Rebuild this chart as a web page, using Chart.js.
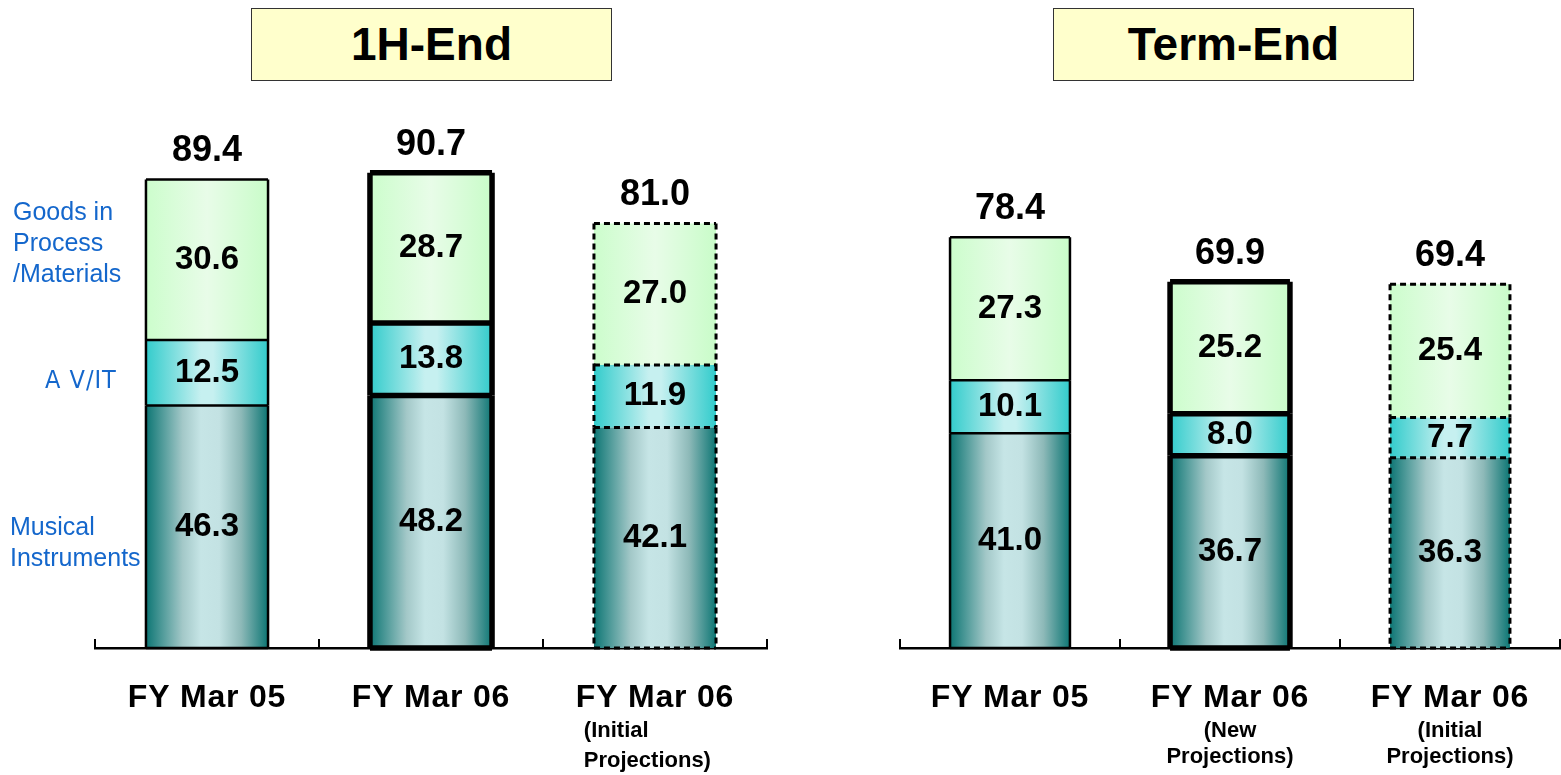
<!DOCTYPE html>
<html>
<head>
<meta charset="utf-8">
<script src="https://cdn.jsdelivr.net/npm/chart.js@4.4.0/dist/chart.umd.min.js"></script>
<style>
body { margin: 0; background: #fff; width: 1561px; height: 775px; overflow: hidden; position: relative;
       font-family: "Liberation Sans", Arial, sans-serif; }
canvas { position: absolute; left: 0; top: 0; }
.title { position: absolute; top: 8px; width: 359px; height: 71px; background: #ffffcc; border: 1.5px solid #333;
         font-weight: bold; font-size: 46px; line-height: 71px; text-align: center; z-index: 2; }
.leg { position: absolute; color: #1467cc; font-size: 25px; line-height: 31px; z-index: 2; white-space: nowrap; }
</style>
</head>
<body>
<div class="title" style="left:251px">1H-End</div>
<div class="title" style="left:1053px">Term-End</div>
<div class="leg" style="left:13px;top:196px">Goods in<br>Process<br>/Materials</div>
<div class="leg" style="left:45px;top:364px;font-family:'Liberation Sans Narrow','DejaVu Sans Condensed',sans-serif;letter-spacing:1px">A V/IT</div>
<div class="leg" style="left:10px;top:511px">Musical<br>Instruments</div>
<canvas id="half"></canvas>
<canvas id="term"></canvas>
<script>
// 1H-End
let categoriesHalf = ["FY Mar 05", "FY Mar 06", "FY Mar 06"];
let notesHalf = [[], [], ["(Initial", "Projections)"]];
let instrumentsHalf = [46.3, 48.2, 42.1];
let avitHalf = [12.5, 13.8, 11.9];
let goodsHalf = [30.6, 28.7, 27.0];

// Term-End
let categoriesTerm = ["FY Mar 05", "FY Mar 06", "FY Mar 06"];
let notesTerm = [[], ["(New", "Projections)"], ["(Initial", "Projections)"]];
let instrumentsTerm = [41.0, 36.7, 36.3];
let avitTerm = [10.1, 8.0, 7.7];
let goodsTerm = [27.3, 25.2, 25.4];

let barPct = 0.545;
let font = '"Liberation Sans", Arial, sans-serif';
let labelSpacing = '0.8px';

// actual / new projection / initial projection outlines
let outlines = [
  { w: 2.5, dash: [] },
  { w: 5.5, dash: [] },
  { w: 3, dash: [6, 4] }
];

// horizontal gradient across each bar
function barFill(stops) {
  return function (c) {
    let chart = c.chart;
    let xs = chart.scales.x;
    if (!xs || c.dataIndex === undefined || !xs.width) return stops[stops.length >> 1][1];
    let cx = xs.getPixelForValue(c.dataIndex);
    let half = xs.width / chart.data.labels.length * barPct / 2;
    let g = chart.ctx.createLinearGradient(cx - half, 0, cx + half, 0);
    stops.forEach(s => g.addColorStop(s[0], s[1]));
    return g;
  };
}

let instrumentStops = [[0, '#0d7674'], [0.3, '#a3c8c8'], [0.45, '#c6e5e6'], [0.6, '#c3e2e3'], [0.78, '#8db9b8'], [1, '#0d7674']];
let avitStops = [[0, '#33cccc'], [0.45, '#c6f0f0'], [0.55, '#c6f0f0'], [1, '#33cccc']];
let goodsStops = [[0, '#ccfdcc'], [0.5, '#e8fce8'], [1, '#c9fcc9']];

let decor = {
  id: 'decor',
  beforeDraw(chart) {
    if ('letterSpacing' in chart.ctx) chart.ctx.letterSpacing = labelSpacing;
  },
  afterDatasetsDraw(chart, args, opts) {
    let ctx = chart.ctx;
    let xs = chart.scales.x;
    let n = chart.data.labels.length;
    ctx.save();
    if ('letterSpacing' in ctx) ctx.letterSpacing = '0px';
    ctx.strokeStyle = '#000';
    ctx.lineJoin = 'round';

    // outlines
    chart.data.datasets.forEach((ds, di) => {
      chart.getDatasetMeta(di).data.forEach((el, i) => {
        let st = outlines[i];
        let l = el.x - el.width / 2, r = el.x + el.width / 2;
        ctx.lineWidth = st.w;
        ctx.setLineDash(st.dash);
        ctx.beginPath();
        ctx.moveTo(l, el.y); ctx.lineTo(r, el.y);
        ctx.moveTo(l, el.y); ctx.lineTo(l, el.base);
        ctx.moveTo(r, el.y); ctx.lineTo(r, el.base);
        if (di === 0) { ctx.moveTo(l, el.base); ctx.lineTo(r, el.base); }
        ctx.stroke();
      });
    });
    ctx.setLineDash([]);

    // segment values
    ctx.fillStyle = '#000';
    ctx.textAlign = 'center';
    ctx.textBaseline = 'middle';
    ctx.font = 'bold 33px ' + font;
    chart.data.datasets.forEach((ds, di) => {
      chart.getDatasetMeta(di).data.forEach((el, i) => {
        ctx.fillText(ds.data[i].toFixed(1), el.x, (el.y + el.base) / 2);
      });
    });

    // totals
    ctx.font = 'bold 36px ' + font;
    let last = chart.data.datasets.length - 1;
    chart.getDatasetMeta(last).data.forEach((el, i) => {
      let total = chart.data.datasets.reduce((s, ds) => s + ds.data[i], 0);
      ctx.fillText(total.toFixed(1), el.x, el.y - 28);
    });

    // tick marks pointing up
    ctx.lineWidth = 2;
    ctx.beginPath();
    for (let k = 0; k <= n; k++) {
      let x = xs.left + k * xs.width / n;
      ctx.moveTo(x, xs.top);
      ctx.lineTo(x, xs.top - 9);
    }
    ctx.stroke();

    // notes under labels
    ctx.font = 'bold 22px ' + font;
    ctx.textAlign = opts.noteAlign;
    let mainFont = 'bold 32px ' + font;
    opts.notes.forEach((lines, i) => {
      let x = xs.getPixelForValue(i);
      if (opts.noteAlign === 'left') {
        ctx.save();
        ctx.font = mainFont;
        if ('letterSpacing' in ctx) ctx.letterSpacing = labelSpacing;
        let w = ctx.measureText(chart.data.labels[i]).width;
        ctx.restore();
        x = x - w / 2 + 8;
      }
      lines.forEach((t, j) => ctx.fillText(t, x, xs.top + opts.noteY[j]));
    });
    ctx.restore();
  }
};

function makeChart(id, labels, instruments, avit, goods, notes, padLeft, padRight, noteAlign, noteY) {
  let canvas = document.getElementById(id);
  canvas.width = 1561;
  canvas.height = 775;
  return new Chart(canvas, {
    type: 'bar',
    data: {
      labels: labels,
      datasets: [
        { label: 'Musical Instruments', data: instruments, backgroundColor: barFill(instrumentStops) },
        { label: 'AV/IT', data: avit, backgroundColor: barFill(avitStops) },
        { label: 'Goods in Process/Materials', data: goods, backgroundColor: barFill(goodsStops) }
      ]
    },
    options: {
      responsive: false,
      animation: false,
      events: [],
      datasets: { bar: { categoryPercentage: 1, barPercentage: barPct, borderWidth: 0 } },
      layout: { padding: { left: padLeft, right: padRight, top: 124, bottom: 0 } },
      plugins: {
        legend: { display: false },
        tooltip: { enabled: false },
        decor: { notes: notes, noteAlign: noteAlign, noteY: noteY }
      },
      scales: {
        x: {
          stacked: true,
          grid: { display: false, drawTicks: false },
          border: { display: true, color: '#000', width: 2.5 },
          ticks: { color: '#000', font: { family: font, size: 32, weight: 'bold' }, padding: 31, maxRotation: 0 },
          afterFit: s => { s.height = 127; }
        },
        y: { stacked: true, display: false, min: 0, max: 100 }
      }
    },
    plugins: [decor]
  });
}

makeChart('half', categoriesHalf, instrumentsHalf, avitHalf, goodsHalf, notesHalf, 95, 1561 - 767, 'left', [83, 113]);
makeChart('term', categoriesTerm, instrumentsTerm, avitTerm, goodsTerm, notesTerm, 900, 1, 'center', [83, 109]);
</script>
</body>
</html>
